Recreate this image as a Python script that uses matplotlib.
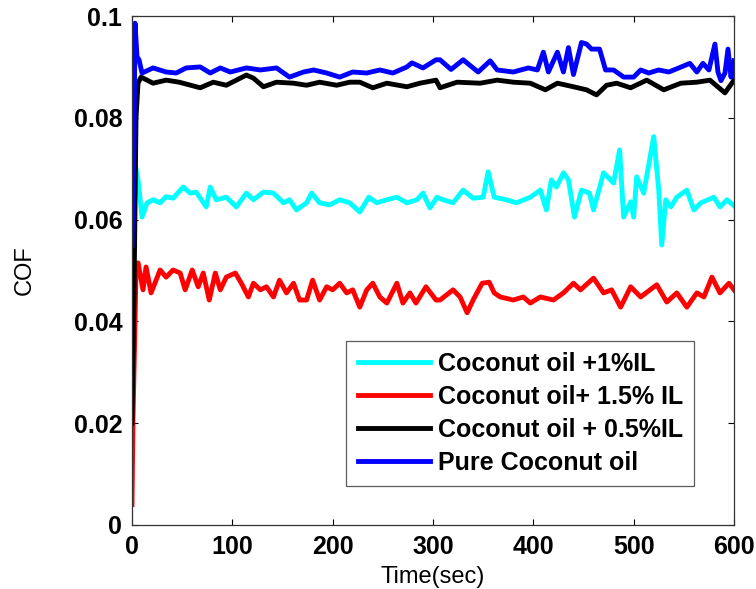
import matplotlib
matplotlib.use("Agg")
import matplotlib.pyplot as plt

# COF vs time readings (sec, COF) for each lubricant
t_cyan = [0, 1, 2, 4, 6, 10, 15, 21, 28, 34, 41, 51, 58, 64, 74, 78, 84, 94, 104,
          114, 121, 131, 141, 151, 157, 164, 174, 179, 187, 197, 207, 217, 227,
          236, 244, 254, 264, 274, 284, 290, 297, 304, 310, 320, 330, 340, 350,
          355, 361, 373, 383, 397, 407, 413, 418, 423, 430, 435, 441, 448, 456,
          460, 470, 480, 486, 490, 497, 500, 503, 510, 520, 525, 528, 532, 537,
          543, 553, 560, 567, 580, 586, 593, 600]
cof_cyan = [0.048, 0.057, 0.0717, 0.070, 0.0678, 0.0605, 0.0633, 0.0639, 0.0633,
            0.0645, 0.0642, 0.0664, 0.0652, 0.0654, 0.0625, 0.0664, 0.0639,
            0.0644, 0.0625, 0.0652, 0.0639, 0.0654, 0.0652, 0.0633, 0.0639,
            0.0619, 0.0633, 0.0652, 0.0633, 0.0629, 0.0639, 0.0633, 0.0615,
            0.0644, 0.0633, 0.0639, 0.0644, 0.0633, 0.0639, 0.0652, 0.0623,
            0.0644, 0.0639, 0.0633, 0.0658, 0.0642, 0.0644, 0.0694, 0.0644,
            0.0639, 0.0633, 0.0644, 0.0658, 0.0619, 0.0678, 0.0664, 0.0692,
            0.0678, 0.0605, 0.0658, 0.0652, 0.0619, 0.0692, 0.0672, 0.0737,
            0.0605, 0.0635, 0.0605, 0.0684, 0.0652, 0.0763, 0.0658, 0.0550,
            0.0639, 0.0625, 0.0644, 0.0658, 0.0619, 0.0633, 0.0644, 0.0625,
            0.0639, 0.0627]

t_red = [0, 1, 2.5, 4, 6, 11, 14, 19, 28, 34, 41, 48, 53, 60, 66, 71, 77, 83, 88,
         94, 103, 109, 116, 121, 128, 134, 141, 147, 154, 161, 167, 174, 180,
         187, 194, 200, 207, 214, 220, 227, 234, 240, 247, 254, 264, 270, 277,
         283, 293, 303, 307, 320, 327, 334, 340, 349, 356, 361, 367, 380, 390,
         397, 407, 420, 430, 440, 447, 460, 470, 478, 487, 497, 507, 523, 533,
         543, 553, 563, 570, 578, 586, 595, 600]
cof_red = [0.004, 0.021, 0.035, 0.050, 0.0515, 0.0462, 0.0507, 0.0456, 0.0501,
           0.0487, 0.0501, 0.0495, 0.0462, 0.0501, 0.0468, 0.0495, 0.0442,
           0.0495, 0.0462, 0.0487, 0.0495, 0.0475, 0.0448, 0.0475, 0.0462,
           0.0468, 0.0448, 0.0481, 0.0456, 0.0475, 0.0442, 0.0442, 0.0481,
           0.0442, 0.0468, 0.0462, 0.0475, 0.0456, 0.0462, 0.0428, 0.0462,
           0.0475, 0.0448, 0.0436, 0.0475, 0.0436, 0.0456, 0.0436, 0.0468,
           0.0442, 0.0442, 0.0462, 0.0448, 0.0417, 0.0442, 0.0475, 0.0477,
           0.0456, 0.0448, 0.0442, 0.0448, 0.0436, 0.0448, 0.0442, 0.0456,
           0.0475, 0.0462, 0.0485, 0.0456, 0.0462, 0.0428, 0.0468, 0.0448,
           0.0472, 0.0438, 0.0456, 0.0428, 0.0456, 0.0448, 0.0487, 0.0456,
           0.0475, 0.0462]

t_black = [0, 2, 4, 6, 9, 21, 34, 47, 68, 81, 94, 114, 121, 131, 144, 161, 174,
           187, 204, 217, 227, 240, 254, 274, 287, 303, 307, 324, 347, 364, 380,
           397, 412, 424, 440, 453, 463, 473, 483, 497, 513, 530, 547, 563, 576,
           591, 600]
cof_black = [0.020, 0.045, 0.080, 0.0868, 0.0880, 0.0868, 0.0874, 0.0870, 0.0859,
             0.0870, 0.0864, 0.0884, 0.0878, 0.0861, 0.0870, 0.0868, 0.0864,
             0.0870, 0.0864, 0.0870, 0.0870, 0.0859, 0.0868, 0.0861, 0.0868,
             0.0874, 0.0859, 0.0870, 0.0868, 0.0874, 0.0870, 0.0868, 0.0855,
             0.0868, 0.0861, 0.0855, 0.0845, 0.0864, 0.0868, 0.0859, 0.0874,
             0.0855, 0.0868, 0.0870, 0.0874, 0.0849, 0.0874]

t_blue = [0, 2, 3, 5, 7, 10, 21, 34, 44, 54, 68, 78, 88, 98, 114, 128, 144, 157,
          171, 181, 194, 207, 220, 234, 247, 260, 274, 279, 290, 303, 307, 318,
          330, 345, 357, 364, 380, 395, 404, 410, 415, 424, 430, 435, 440, 448,
          453, 458, 466, 472, 480, 490, 500, 507, 515, 525, 535, 545, 556, 563,
          569, 575, 581, 584, 587, 591, 594, 597, 600]
cof_blue = [0.055, 0.075, 0.0986, 0.092, 0.0914, 0.0888, 0.0898, 0.0890, 0.0888,
            0.0898, 0.0900, 0.0888, 0.0898, 0.0890, 0.0898, 0.0894, 0.0898,
            0.0880, 0.0890, 0.0894, 0.0888, 0.0880, 0.0890, 0.0888, 0.0894,
            0.0888, 0.0900, 0.0908, 0.0898, 0.0914, 0.0914, 0.0895, 0.0914,
            0.0890, 0.0912, 0.0894, 0.0890, 0.0898, 0.0894, 0.0929, 0.0890,
            0.0929, 0.0890, 0.0938, 0.0885, 0.0948, 0.0945, 0.0935, 0.0935,
            0.0894, 0.0894, 0.0880, 0.0880, 0.0894, 0.0888, 0.0894, 0.0890,
            0.0898, 0.0907, 0.0890, 0.0907, 0.0894, 0.0945, 0.0890, 0.0873,
            0.0888, 0.0935, 0.0880, 0.0912]

labels = ["Coconut oil +1%IL", "Coconut oil+ 1.5% IL",
          "Coconut oil + 0.5%IL", "Pure Coconut oil"]

plt.rcParams['font.family'] = ['Liberation Sans', 'DejaVu Sans']

fig = plt.figure(figsize=(7.56, 5.89), dpi=100)
ax = fig.add_axes([0.1746, 0.1087, 0.7963, 0.8641])

ax.plot(t_cyan, cof_cyan, color='cyan', lw=3.5, label=labels[0])
ax.plot(t_red, cof_red, color='red', lw=3.5, label=labels[1])
ax.plot(t_black, cof_black, color='black', lw=3.5, label=labels[2])
ax.plot(t_blue, cof_blue, color='blue', lw=3.5, label=labels[3])

ax.set_xlim(0, 600)
ax.set_ylim(0, 0.1)
ax.set_xticks([0, 100, 200, 300, 400, 500, 600])
ax.set_yticks([0, 0.02, 0.04, 0.06, 0.08, 0.1])
ax.set_yticklabels(["0", "0.02", "0.04", "0.06", "0.08", "0.1"])

ax.tick_params(direction='in', length=4, width=0.8, top=True, right=True,
               labelsize=18, pad=7)
for lab in ax.get_xticklabels() + ax.get_yticklabels():
    lab.set_fontweight('bold')
for sp in ax.spines.values():
    sp.set_color('#333333')
    sp.set_linewidth(0.9)

ax.set_xlabel("Time(sec)", fontsize=17, labelpad=5)
ax.set_ylabel("COF", fontsize=17, labelpad=27)

leg = ax.legend(loc='upper left', bbox_to_anchor=(0.356, 0.362),
                prop={'weight': 'bold', 'size': 18}, fancybox=False,
                handlelength=2.9, handletextpad=0.3, labelspacing=0.36,
                borderpad=0.45, borderaxespad=0)
leg.get_frame().set_edgecolor('#333333')
leg.get_frame().set_linewidth(0.9)

plt.savefig('out.png', dpi=100)
